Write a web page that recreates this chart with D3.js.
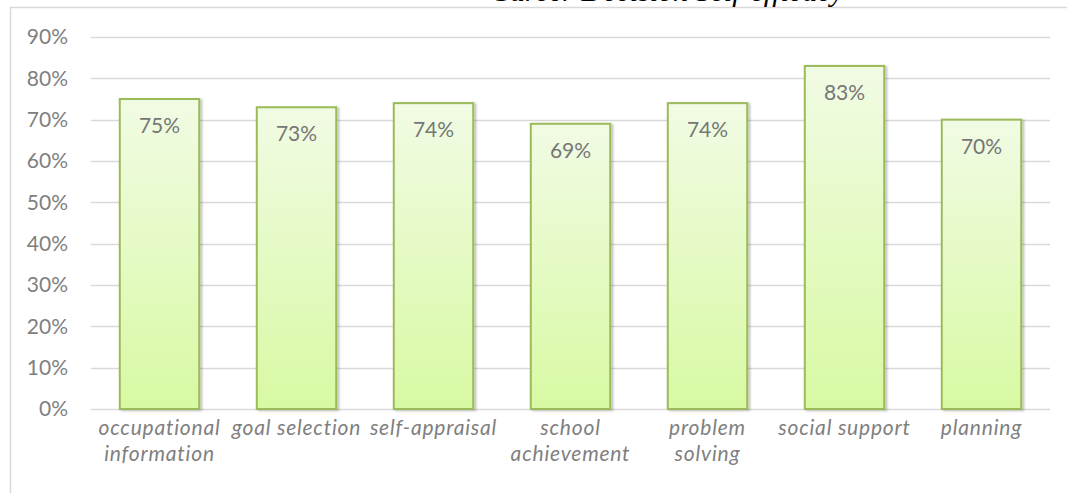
<!DOCTYPE html>
<html>
<head>
<meta charset="utf-8">
<script src="https://cdn.jsdelivr.net/npm/d3@7"></script>
<style>
  body { margin: 0; background: #fff; }
  svg { display: block; }
  text { font-family: Lato, "Open Sans", sans-serif; }
</style>
</head>
<body>
<svg width="1067" height="493"></svg>
<script>
const categories = [
  "occupational information",
  "goal selection",
  "self-appraisal",
  "school achievement",
  "problem solving",
  "social support",
  "planning"
];
const values = [0.75, 0.73, 0.74, 0.69, 0.74, 0.83, 0.70];
const ticks = [0, 0.1, 0.2, 0.3, 0.4, 0.5, 0.6, 0.7, 0.8, 0.9];
const title = "Career Decision Self-efficacy";

const svg = d3.select("svg"),
  margin = { top: 37, right: 17, bottom: 84, left: 91 },
  width = +svg.attr("width") - margin.left - margin.right,
  height = +svg.attr("height") - margin.top - margin.bottom;

const defs = svg.append("defs");
const grad = defs.append("linearGradient")
  .attr("id", "barFill")
  .attr("x1", 0).attr("y1", 0).attr("x2", 0).attr("y2", 1);
grad.append("stop").attr("offset", "0%").attr("stop-color", "#f1fbe4");
grad.append("stop").attr("offset", "100%").attr("stop-color", "#d8f9a3");

const shadow = defs.append("filter").attr("id", "shadow")
  .attr("x", "-10%").attr("y", "-10%").attr("width", "130%").attr("height", "130%");
shadow.append("feDropShadow")
  .attr("dx", 2).attr("dy", 1).attr("stdDeviation", 1.2)
  .attr("flood-color", "#000").attr("flood-opacity", 0.25);

// outer frame (only top and left edges show)
svg.append("line")
  .attr("x1", 10).attr("x2", 1067).attr("y1", 7.5).attr("y2", 7.5)
  .style("stroke", "#d9d9d9").style("stroke-width", 1.5);
svg.append("line")
  .attr("x1", 10.5).attr("x2", 10.5).attr("y1", 7).attr("y2", 493)
  .style("stroke", "#d9d9d9").style("stroke-width", 1.5);

// title sits mostly above the top edge, only its lower part shows
svg.append("text")
  .attr("x", 490)
  .attr("y", 1)
  .style("font-family", "'Liberation Serif', serif")
  .style("font-style", "italic")
  .style("font-size", "30px")
  .style("fill", "#000")
  .text(title);

const g = svg.append("g")
  .attr("transform", `translate(${margin.left},${margin.top})`);

const x = d3.scaleBand()
  .domain(categories)
  .range([0, width])
  .paddingInner(0.42)
  .paddingOuter(0.21);

const y = d3.scaleLinear()
  .domain([0, 0.9])
  .range([height, 0]);

// gridlines
g.append("g")
  .selectAll("line")
  .data(ticks)
  .enter()
  .append("line")
  .attr("x1", 0)
  .attr("x2", width)
  .attr("y1", (d) => Math.round(y(d)) + 0.5)
  .attr("y2", (d) => Math.round(y(d)) + 0.5)
  .style("stroke", "#d9d9d9")
  .style("stroke-width", 1.5);

const yAxis = g.append("g")
  .call(d3.axisLeft(y).tickValues(ticks).tickFormat(d3.format(".0%")).tickSize(0).tickPadding(23));
yAxis.select(".domain").remove();
yAxis.selectAll("text")
  .style("font-family", "Lato, sans-serif")
  .style("font-size", "21px")
  .style("fill", "#7f7f7f");

// bars
g.selectAll(".bar")
  .data(values)
  .enter()
  .append("rect")
  .attr("class", "bar")
  .attr("x", (d, i) => x(categories[i]))
  .attr("y", (d) => y(d))
  .attr("width", x.bandwidth())
  .attr("height", (d) => height - y(d))
  .style("fill", "url(#barFill)")
  .style("stroke", "#9bbb59")
  .style("stroke-width", 2)
  .style("filter", "url(#shadow)");

g.selectAll(".valueLabel")
  .data(values)
  .enter()
  .append("text")
  .attr("class", "valueLabel")
  .attr("x", (d, i) => x(categories[i]) + x.bandwidth() / 2)
  .attr("y", (d) => y(d) + 34)
  .attr("text-anchor", "middle")
  .style("font-size", "21px")
  .style("fill", "#767676")
  .text((d) => d3.format(".0%")(d));

// category labels, wrapped to the band step
const step = x.step();
const labels = g.append("g")
  .attr("transform", `translate(0,${height})`)
  .selectAll("text")
  .data(categories)
  .enter()
  .append("text")
  .attr("x", (d) => x(d) + x.bandwidth() / 2)
  .attr("y", 26)
  .attr("text-anchor", "middle")
  .style("font-size", "21px")
  .style("letter-spacing", "0.8px")
  .style("font-style", "italic")
  .style("fill", "#7f7f7f");

labels.each(function (d) {
  const el = d3.select(this);
  const words = d.split(" ");
  let line = [];
  const lines = [];
  const probe = el.append("tspan");
  words.forEach((w) => {
    probe.text(line.concat(w).join(" "));
    if (probe.node().getComputedTextLength() > step && line.length) {
      lines.push(line.join(" "));
      line = [w];
    } else {
      line.push(w);
    }
  });
  lines.push(line.join(" "));
  probe.remove();
  lines.forEach((t, i) => {
    el.append("tspan")
      .attr("x", x(d) + x.bandwidth() / 2)
      .attr("dy", i === 0 ? 0 : 26)
      .text(t);
  });
});
</script>
</body>
</html>
